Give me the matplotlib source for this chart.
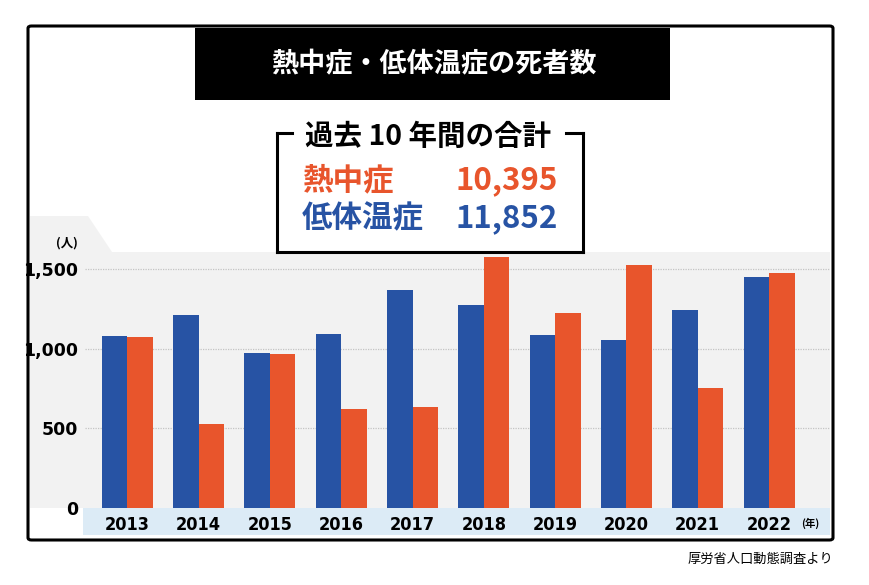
import matplotlib
matplotlib.use("Agg")
import matplotlib.pyplot as plt
import numpy as np
from matplotlib.patches import Polygon, Rectangle, FancyBboxPatch
from matplotlib.lines import Line2D

plt.rcParams['font.family'] = ['Noto Sans CJK JP', 'DejaVu Sans']

years = ['2013', '2014', '2015', '2016', '2017', '2018', '2019', '2020', '2021', '2022']
hypothermia = [1084, 1211, 974, 1094, 1371, 1278, 1087, 1056, 1245, 1452]
heatstroke = [1077, 529, 968, 621, 635, 1581, 1224, 1528, 755, 1477]
yticks = [0, 500, 1000, 1500]
ytick_labels = ['0', '500', '1,000', '1,500']

BLUE = '#2753a4'
ORANGE = '#e8552c'

W, H = 869, 585
fig = plt.figure(figsize=(W / 100, H / 100), dpi=100)

def fx(x):
    return x / W

def fy(y):
    return 1 - y / H

# chart background (grey area with chamfered tab) and blue year band
bg = Polygon([(fx(30), fy(216)), (fx(88), fy(216)), (fx(112), fy(252)), (fx(830), fy(252)),
              (fx(830), fy(508)), (fx(30), fy(508))], closed=True,
             transform=fig.transFigure, facecolor='#f2f2f2', edgecolor='none', zorder=-5)
fig.patches.append(bg)
band = Rectangle((fx(83), fy(535)), fx(830) - fx(83), fy(508) - fy(535),
                 transform=fig.transFigure, facecolor='#dcebf6', edgecolor='none', zorder=-5)
fig.patches.append(band)

# outer frame
frame = FancyBboxPatch((fx(28), fy(540)), fx(833) - fx(28), fy(26) - fy(540),
                       boxstyle='round,pad=0,rounding_size=0.004', transform=fig.transFigure,
                       facecolor='none', edgecolor='black', linewidth=2.2, zorder=5)
fig.patches.append(frame)

# title box
tbox = Rectangle((fx(195), fy(100)), fx(670) - fx(195), fy(28) - fy(100),
                 transform=fig.transFigure, facecolor='black', edgecolor='none', zorder=1)
fig.patches.append(tbox)
fig.text(fx(434), fy(64), '熱中症・低体温症の死者数', color='white', fontsize=19.5,
         fontweight='bold', ha='center', va='center', zorder=2)

# bars
ax = fig.add_axes([fx(85), fy(508), fx(830) - fx(85), fy(252) - fy(508)])
ax.set_facecolor('none')
x = np.arange(len(years))
bw = 0.358
ax.bar(x - bw / 2, hypothermia, width=bw, color=BLUE, zorder=3)
ax.bar(x + bw / 2, heatstroke, width=bw, color=ORANGE, zorder=3)
ax.set_xlim(-0.593, 9.855)
ax.set_ylim(0, 1610)
for v in yticks[1:]:
    ax.axhline(v, color='#c4c4c4', linestyle=(0, (1, 1)), linewidth=0.9, zorder=1)
for s in ax.spines.values():
    s.set_visible(False)
ax.set_yticks(yticks)
ax.set_yticklabels(ytick_labels, fontsize=12.5, fontweight='bold', family=['DejaVu Sans'])
ax.tick_params(axis='y', length=0, pad=5)
ax.set_xticks(x)
ax.set_xticklabels(years, fontsize=13, fontweight='bold', family=['DejaVu Sans'],
                   fontstretch='condensed')
ax.tick_params(axis='x', length=0, pad=6)

fig.text(fx(67), fy(243), '(人)', fontsize=9, fontweight='bold', ha='center', va='center')
fig.text(fx(801), fy(523), '(年)', fontsize=7.5, fontweight='bold', ha='left', va='center')

# summary box (bracket)
lw = 2.2
for xs, ys in [([277, 292], [133, 133]), ([566, 583], [133, 133]),
               ([277, 277], [133, 252]), ([583, 583], [133, 252]), ([277, 583], [252, 252])]:
    fig.add_artist(Line2D([fx(v) for v in xs], [fy(v) for v in ys], color='black',
                          linewidth=lw, transform=fig.transFigure, zorder=6,
                          solid_capstyle='projecting'))
boxbg = Rectangle((fx(277), fy(252)), fx(583) - fx(277), fy(133) - fy(252),
                  transform=fig.transFigure, facecolor='white', edgecolor='none', zorder=4)
fig.patches.append(boxbg)
fig.text(fx(428), fy(137), '過去 10 年間の合計', fontsize=20.5, fontweight='bold',
         ha='center', va='center', zorder=7)
fig.text(fx(302), fy(180), '熱中症', fontsize=22, fontweight='bold', color=ORANGE,
         ha='left', va='center', zorder=7)
fig.text(fx(558), fy(180), '10,395', fontsize=22.5, fontweight='bold', color=ORANGE,
         ha='right', va='center', zorder=7)
fig.text(fx(302), fy(218), '低体温症', fontsize=22, fontweight='bold', color=BLUE,
         ha='left', va='center', zorder=7)
fig.text(fx(558), fy(218), '11,852', fontsize=22.5, fontweight='bold', color=BLUE,
         ha='right', va='center', zorder=7)

fig.text(fx(833), fy(559), '厚労省人口動態調査より', fontsize=9.5, ha='right', va='center')

fig.savefig('out.png', dpi=100)
